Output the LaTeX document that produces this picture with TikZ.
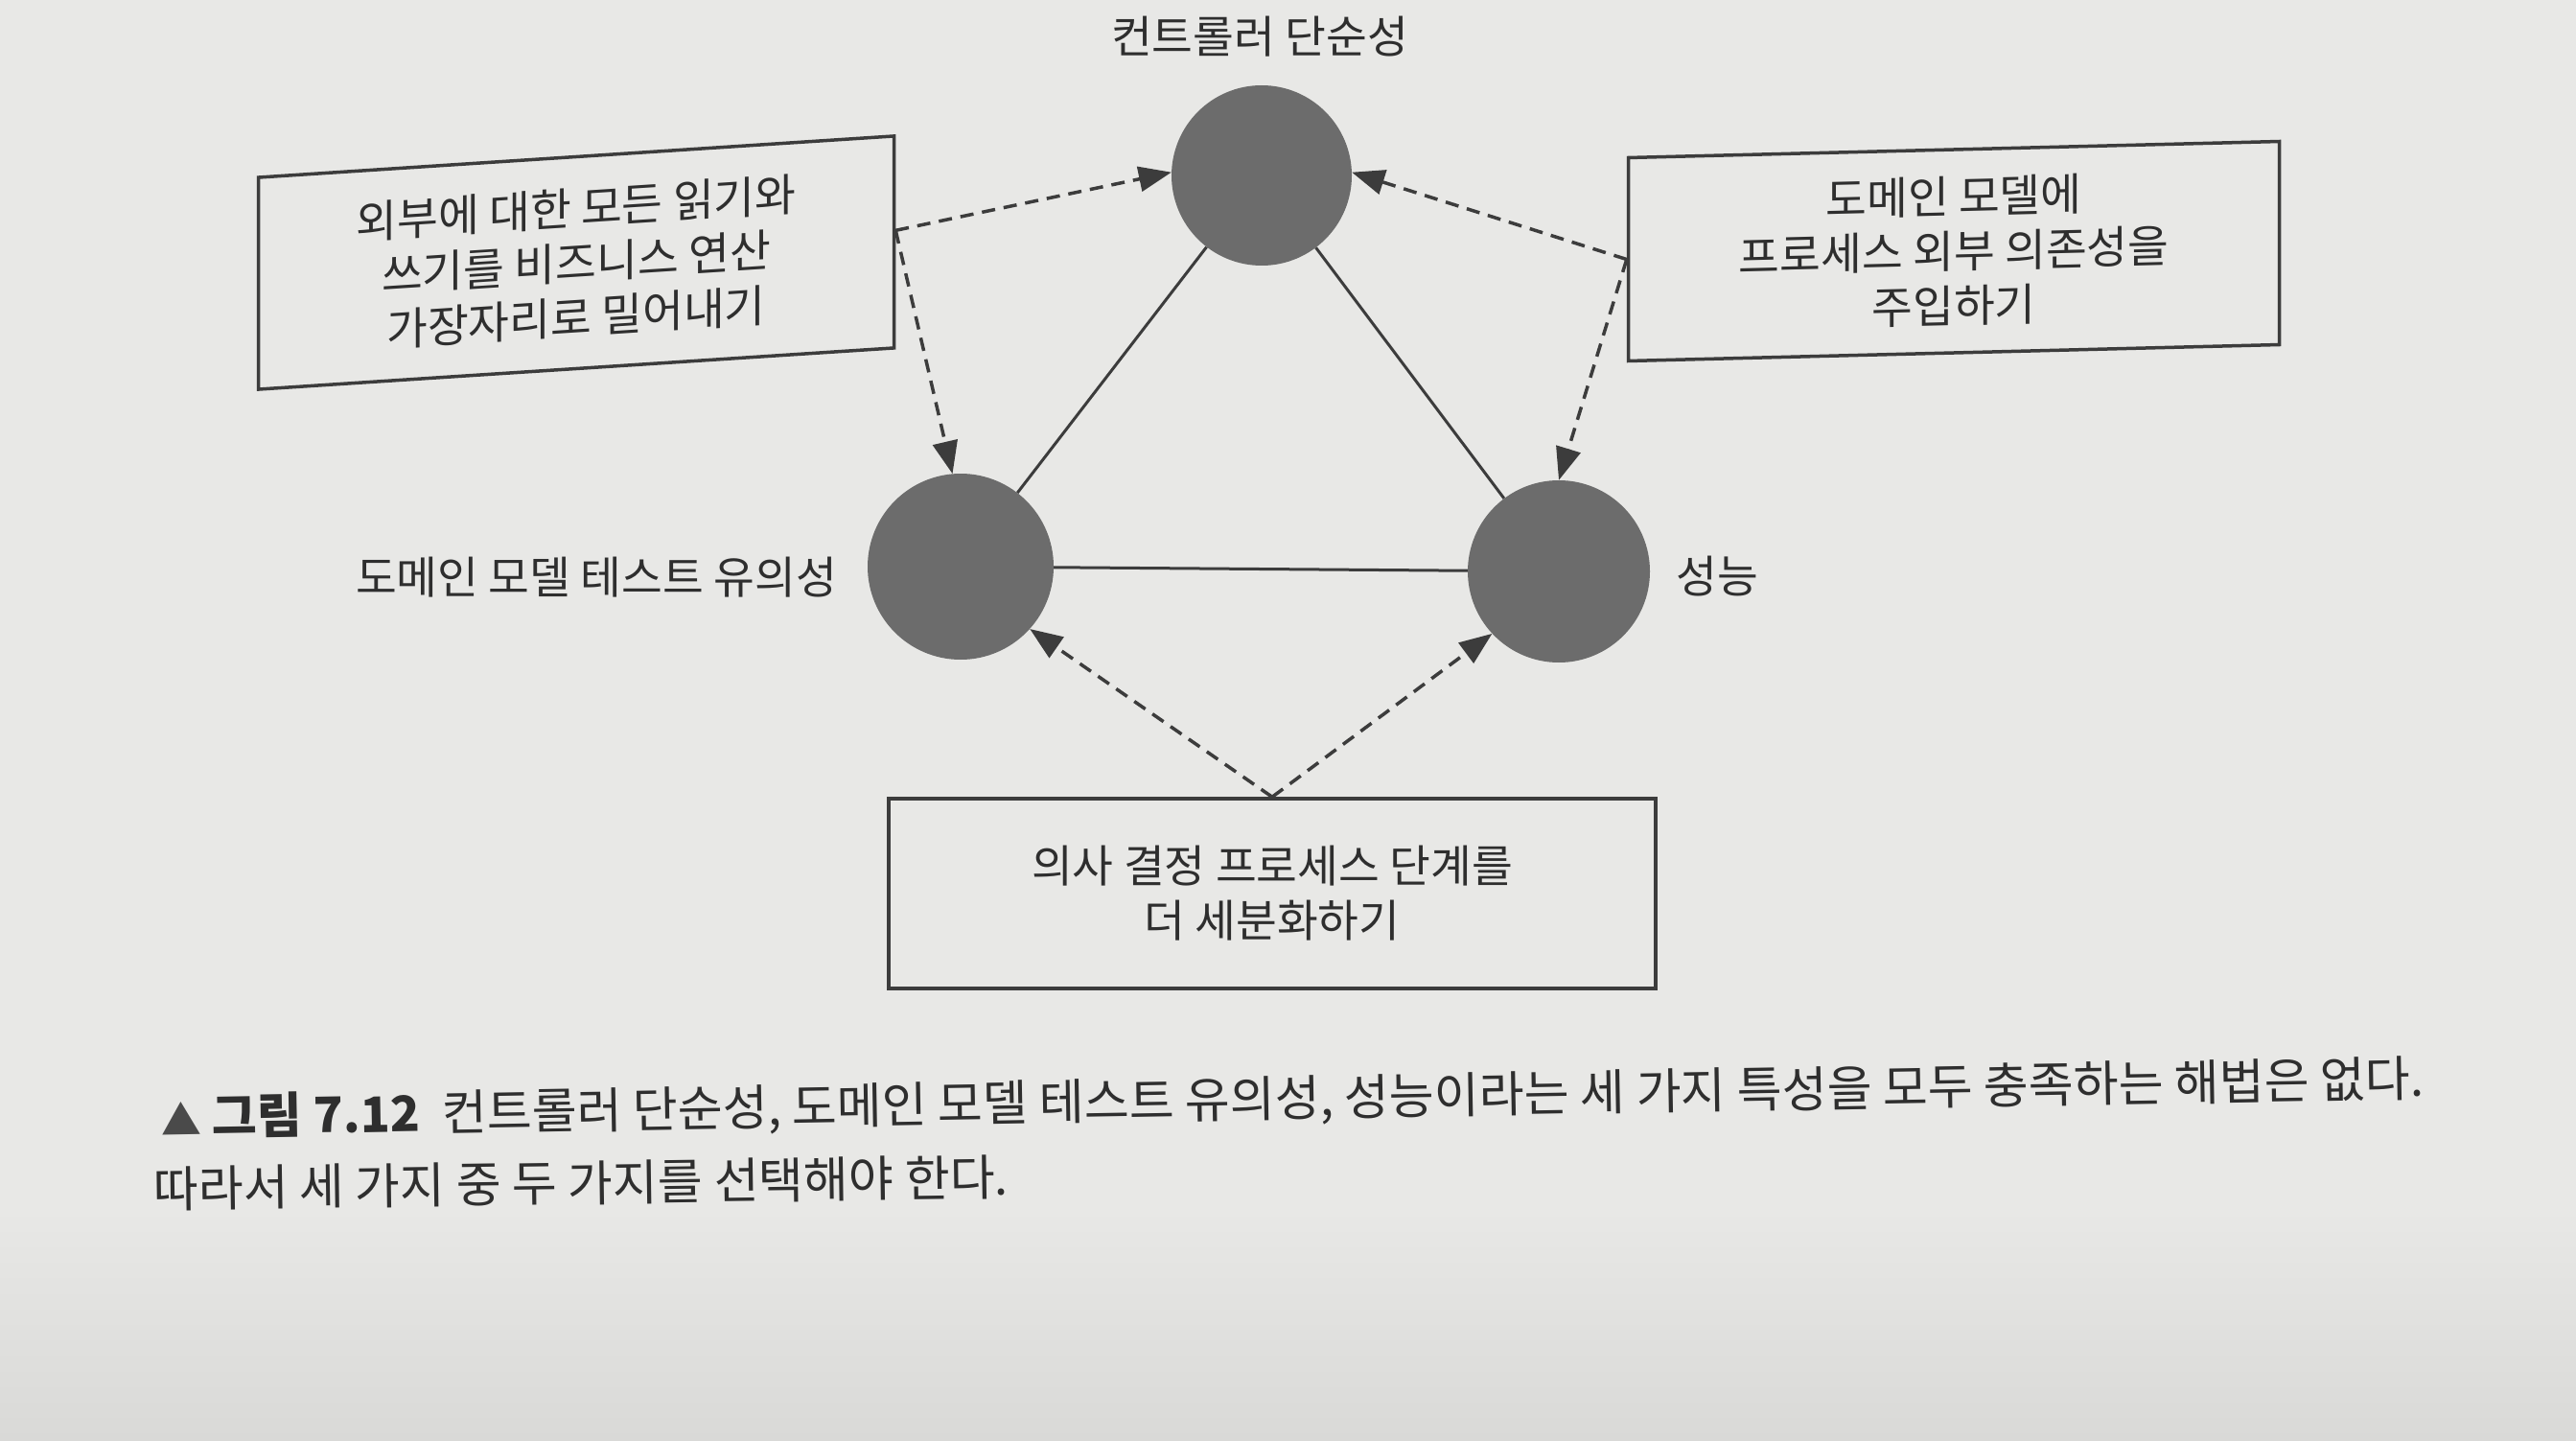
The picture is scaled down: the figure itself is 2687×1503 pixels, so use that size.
\documentclass[tikz,border=0pt]{standalone}
\usepackage{fontspec}
\setmainfont{Noto Sans CJK KR}
\usetikzlibrary{arrows.meta}
\definecolor{paper}{HTML}{E8E8E6}
\definecolor{papershade}{HTML}{D9D9D7}
\definecolor{ink}{HTML}{3C3C3C}
\definecolor{discgray}{HTML}{6C6C6C}
\definecolor{txt}{HTML}{2E2E2E}
\definecolor{trigray}{HTML}{4A4A4A}
\begin{document}
\begin{tikzpicture}[x=1pt,y=-1pt,
  optbox/.style={draw=ink, line width=3.5pt, align=center, text=txt,
    font=\fontsize{46.5}{57}\selectfont, inner sep=0pt},
  disc/.style={circle, fill=discgray, inner sep=0pt},
  lbl/.style={text=txt, font=\fontsize{46.5}{54}\selectfont, inner sep=0pt},
  edge/.style={draw=ink, line width=3pt},
  dep/.style={draw=ink, line width=3.5pt, dash pattern=on 14pt off 9pt,
    -{Triangle[length=34pt,width=26pt]}},
  captext/.style={anchor=west, text=txt, font=\fontsize{51}{60}\selectfont, inner sep=0pt},
]
\fill[paper] (0,0) rectangle (2687,1503);
\shade[top color=paper, bottom color=papershade] (0,1260) rectangle (2687,1503);
\useasboundingbox (0,0) rectangle (2687,1503);

% property discs and labels
\node[disc, minimum size=188pt] (tc) at (1316,183) {};
\node[disc, minimum size=194pt] (lc) at (1002,591) {};
\node[disc, minimum size=190pt] (rc) at (1626,596) {};
\node[lbl] (tl) at (1314,38) {컨트롤러 단순성};
\node[lbl] (ll) at (622,602) {도메인 모델 테스트 유의성};
\node[lbl] (rl) at (1791,601) {성능};

% triangle edges
\draw[edge] (tc) -- (lc);
\draw[edge] (tc) -- (rc);
\draw[edge] (lc) -- (rc);

% option boxes
\node[optbox, minimum width=663pt, minimum height=221pt, yslant=0.065] (lb) at (601,274)
  {외부에 대한 모든 읽기와\\쓰기를 비즈니스 연산\\가장자리로 밀어내기};
\node[optbox, minimum width=679pt, minimum height=212pt, yslant=0.025] (rb) at (2038,262)
  {도메인 모델에\\프로세스 외부 의존성을\\주입하기};
\node[optbox, minimum width=800pt, minimum height=198pt] (bb) at (1327,932)
  {의사 결정 프로세스 단계를\\더 세분화하기};

% dependency arrows
\coordinate (lbo) at ([yshift=12pt]lb.east);
\draw[dep] (lbo) -- (tc.178);
\draw[dep] (lbo) -- (lc.95);
\draw[dep] (rb.west) -- (tc.2);
\draw[dep] (rb.west) -- (rc.north);
\draw[dep] (bb.north) -- (lc.-42);
\draw[dep] (bb.north) -- (rc.-137);

% caption
\node[captext, rotate=1.0] (cap1) at (168,1168)
  {{\color{trigray}\fontsize{42}{50}\selectfont▲} \textbf{그림 7.12}\hspace{0.45em}컨트롤러 단순성, 도메인 모델 테스트 유의성, 성능이라는 세 가지 특성을 모두 충족하는 해법은 없다.};
\node[captext, rotate=0.8] (cap2) at (160,1240)
  {따라서 세 가지 중 두 가지를 선택해야 한다.};
\end{tikzpicture}
\end{document}
